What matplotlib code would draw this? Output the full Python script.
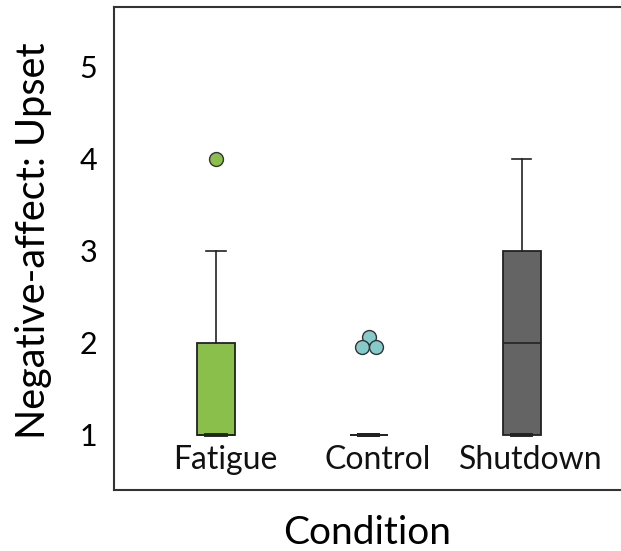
import matplotlib
matplotlib.use("Agg")
import matplotlib.pyplot as plt
import matplotlib.transforms as mtransforms

plt.rcParams['font.family'] = ['Lato', 'DejaVu Sans']

# box statistics
conditions = ['Fatigue', 'Control', 'Shutdown']
q1 = [1, 1, 1]
medians = [1, 1, 2]
q3 = [2, 1, 3]
whisk_lo = [1, 1, 1]
whisk_hi = [3, 1, 4]
outliers = [[4], [2, 2, 2], []]
box_colors = ['#8bbf4b', '#86cbcb', '#646464']

positions = [1, 2, 3]

fig = plt.figure(figsize=(6.21, 5.51), dpi=100)
ax = fig.add_axes([114 / 621, 61 / 551, 1 - 114 / 621, 483 / 551])

stats = []
for i, name in enumerate(conditions):
    stats.append(dict(label=name, q1=q1[i], med=medians[i], q3=q3[i],
                      whislo=whisk_lo[i], whishi=whisk_hi[i], fliers=[]))

bp = ax.bxp(stats, positions=positions, widths=0.25, patch_artist=True,
            showfliers=False, capwidths=0.125,
            boxprops=dict(linewidth=1.3, edgecolor='#222222'),
            medianprops=dict(color='#222222', linewidth=1.2),
            whiskerprops=dict(color='#222222', linewidth=1.2),
            capprops=dict(color='#222222', linewidth=1.2))
for patch, c in zip(bp['boxes'], box_colors):
    patch.set_facecolor(c)

# caps lying on a box edge come out heavier in the original
for i in range(len(conditions)):
    lo_cap, hi_cap = bp['caps'][2 * i], bp['caps'][2 * i + 1]
    if whisk_lo[i] == q1[i]:
        lo_cap.set_linewidth(2.8)
    if whisk_hi[i] == q3[i]:
        hi_cap.set_linewidth(2.8)

# outliers; repeated values are nudged apart so all stay visible
nudges = {1: [(0, 0)], 3: [(0, 4), (-5, -3), (5, -3)]}
for i, vals in enumerate(outliers):
    offs = nudges.get(len(vals), [(0, 0)] * len(vals))
    for v, (dx, dy) in zip(vals, offs):
        tr = mtransforms.offset_copy(ax.transData, fig=fig, x=dx, y=dy, units='points')
        ax.plot(positions[i], v, 'o', transform=tr, markersize=10,
                markerfacecolor=box_colors[i], markeredgecolor='#333333',
                markeredgewidth=1.0, zorder=5)

ax.set_xlim(0.333, 3.65)
ax.set_ylim(0.40, 5.65)

# category names drawn inside the axes, above the bottom spine
for p, name in zip(positions, conditions):
    ax.text(p + 0.06, 0.062, name, transform=ax.get_xaxis_transform(),
            ha='center', va='center', fontsize=23, color='#111111')

ax.set_xticks([])
ax.set_yticks([1, 2, 3, 4, 5])
ax.tick_params(axis='y', length=0, pad=12, labelsize=22)

for side in ['left', 'top', 'bottom']:
    ax.spines[side].set_color('#333333')
    ax.spines[side].set_linewidth(1.5)
ax.spines['right'].set_visible(False)

ax.set_ylabel('Negative-affect: Upset', fontsize=28.5, labelpad=20)
ax.yaxis.label.set_y(0.517)
ax.set_xlabel('Condition', fontsize=28, labelpad=18)

fig.savefig('out.png', dpi=100)
